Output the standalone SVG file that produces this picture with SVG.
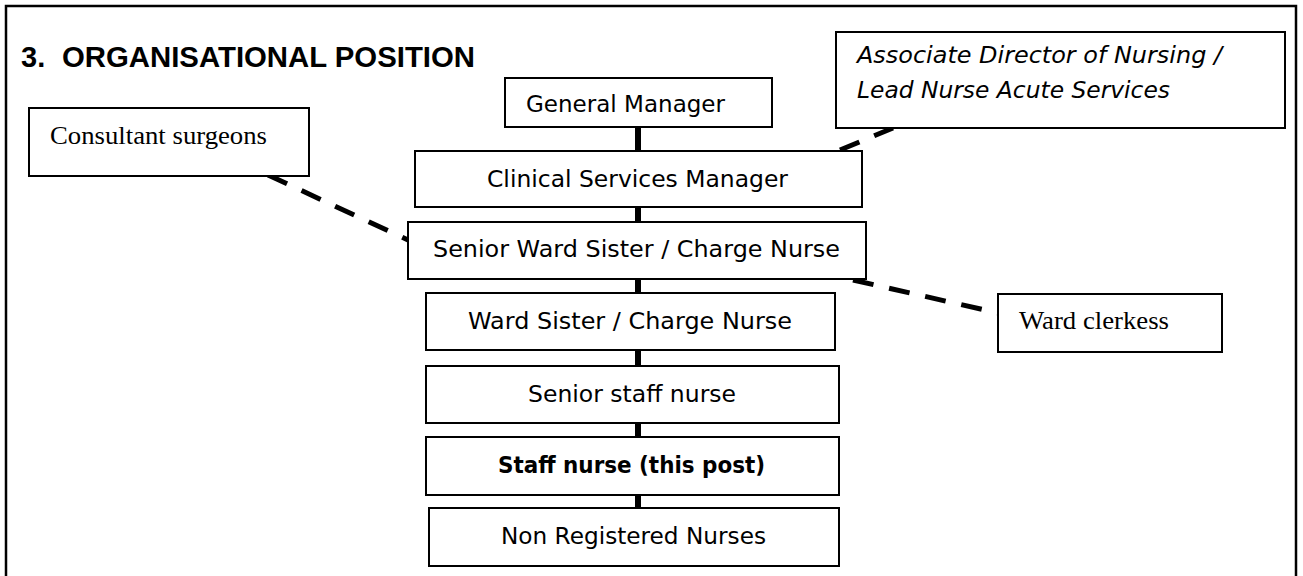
<svg xmlns="http://www.w3.org/2000/svg" width="1303" height="576" viewBox="0 0 1303 576">
<style>
.box{fill:#fff;stroke:#000;stroke-width:2}
.t{font-family:"DejaVu Sans","Liberation Sans",sans-serif;font-size:23.5px;fill:#000}
.ti{font-family:"DejaVu Sans","Liberation Sans",sans-serif;font-size:23.5px;font-style:italic;fill:#000}
.tb{font-family:"DejaVu Sans","Liberation Sans",sans-serif;font-size:23.5px;font-weight:bold;fill:#000}
.ts{font-family:"Liberation Serif","Times New Roman",serif;font-size:26px;fill:#000}
.solid{stroke:#000;stroke-width:6;fill:none}
.dash{stroke:#000;stroke-width:5;fill:none;stroke-dasharray:21 16}
</style>
<rect x="6" y="6" width="1290" height="600" fill="#fff" stroke="#000" stroke-width="2.5"/>
<text x="21" y="67" font-family="'Liberation Sans',Arial,sans-serif" font-size="29" font-weight="bold"><tspan x="21">3.</tspan><tspan x="62" textLength="413" lengthAdjust="spacingAndGlyphs">ORGANISATIONAL POSITION</tspan></text>
<g id="connectors">
<line class="solid" x1="638" y1="127" x2="638" y2="151"/>
<line class="solid" x1="638" y1="207" x2="638" y2="222"/>
<line class="solid" x1="638" y1="279" x2="638" y2="293"/>
<line class="solid" x1="638" y1="350" x2="638" y2="366"/>
<line class="solid" x1="638" y1="423" x2="638" y2="437"/>
<line class="solid" x1="638" y1="495" x2="638" y2="508"/>
<line class="dash" x1="268" y1="175" x2="408" y2="240"/>
<line class="dash" x1="840" y1="150" x2="893" y2="128"/>
<line class="dash" x1="853" y1="280" x2="998" y2="313"/>
</g>
<g id="general-manager"><rect class="box" x="505" y="78" width="267" height="49"/><text class="t" x="526" y="112" textLength="199" lengthAdjust="spacingAndGlyphs">General Manager</text></g>
<g id="clinical-services-manager"><rect class="box" x="415" y="151" width="447" height="56"/><text class="t" x="487" y="187" textLength="301" lengthAdjust="spacingAndGlyphs">Clinical Services Manager</text></g>
<g id="senior-ward-sister"><rect class="box" x="408" y="222" width="458" height="57"/><text class="t" x="433" y="257" textLength="407" lengthAdjust="spacingAndGlyphs">Senior Ward Sister / Charge Nurse</text></g>
<g id="ward-sister"><rect class="box" x="426" y="293" width="409" height="57"/><text class="t" x="468" y="329" textLength="324" lengthAdjust="spacingAndGlyphs">Ward Sister / Charge Nurse</text></g>
<g id="senior-staff-nurse"><rect class="box" x="426" y="366" width="413" height="57"/><text class="t" x="528" y="402" textLength="208" lengthAdjust="spacingAndGlyphs">Senior staff nurse</text></g>
<g id="staff-nurse"><rect class="box" x="426" y="437" width="413" height="58"/><text class="tb" x="498" y="473" textLength="267" lengthAdjust="spacingAndGlyphs">Staff nurse (this post)</text></g>
<g id="non-registered-nurses"><rect class="box" x="429" y="508" width="410" height="58"/><text class="t" x="501" y="544" textLength="265" lengthAdjust="spacingAndGlyphs">Non Registered Nurses</text></g>
<g id="associate-director"><rect class="box" x="836" y="32" width="449" height="96"/><text class="ti" x="857" y="63" textLength="365" lengthAdjust="spacingAndGlyphs">Associate Director of Nursing /</text><text class="ti" x="857" y="98" textLength="313" lengthAdjust="spacingAndGlyphs">Lead Nurse Acute Services</text></g>
<g id="consultant-surgeons"><rect class="box" x="29" y="108" width="280" height="68"/><text class="ts" x="50" y="144" textLength="217" lengthAdjust="spacingAndGlyphs">Consultant surgeons</text></g>
<g id="ward-clerkess"><rect class="box" x="998" y="294" width="224" height="58"/><text class="ts" x="1019" y="329" textLength="150" lengthAdjust="spacingAndGlyphs">Ward clerkess</text></g>
</svg>
